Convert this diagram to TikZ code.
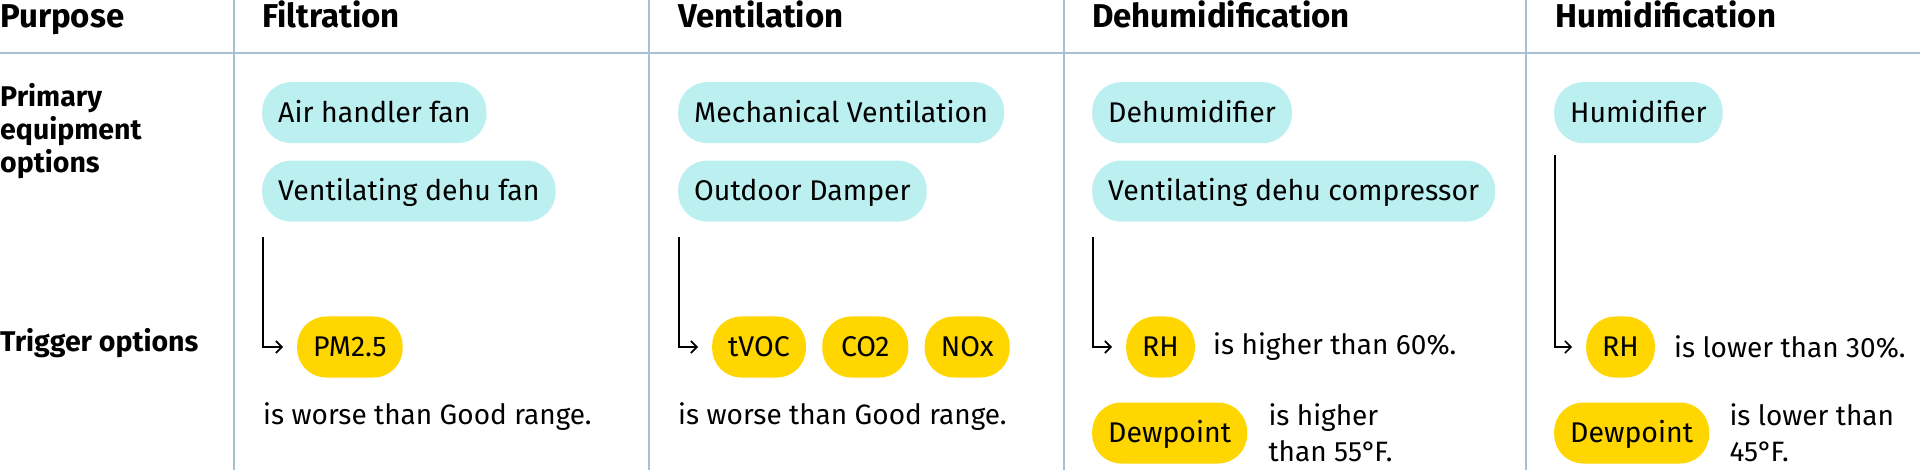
\documentclass[tikz,border=0pt]{standalone}
\usepackage{fontspec}
\setmainfont{Fira Sans}
\usepackage{tikz}
\usetikzlibrary{positioning,calc,arrows.meta}
\definecolor{gridline}{HTML}{A9C0D0}
\definecolor{eqfill}{HTML}{BCEFF0}
\definecolor{trigfill}{HTML}{FFD600}

\begin{document}
\begin{tikzpicture}[
    x=1pt, y=-1pt,
    node distance=16pt,
    head/.style={anchor=base west,inner sep=0pt,font=\fontsize{33}{38}\selectfont\bfseries},
    rowlabel/.style={anchor=west,inner sep=0pt,align=left,font=\fontsize{28.5}{33}\selectfont\bfseries},
    txt/.style={anchor=west,inner sep=0pt,align=left,font=\fontsize{28}{36}\selectfont},
    equip/.style={rectangle,rounded corners=29pt,fill=eqfill,minimum height=61pt,inner xsep=16pt,text height=19pt,text depth=0pt,font=\fontsize{28.5}{32}\selectfont},
    trig/.style={equip,fill=trigfill},
    conn/.style={draw=black,line width=1.6pt,-{Straight Barb[length=6pt,width=12pt]}}
    ]
    \useasboundingbox (0,0) rectangle (1920,470);
    % table rules
    \draw[gridline,line width=2pt] (0,53) -- (1920,53);
    \foreach \x in {234,649,1064,1526}
        \draw[gridline,line width=2pt] (\x,0) -- (\x,470);

    \node[head] (purpose) at (0,28) {Purpose};
    \node[head] (filt) at (262,28) {Filtration};
    \node[head] (vent) at (678,28) {Ventilation};
    \node[head] (dehum) at (1092,28) {Dehumidification};
    \node[head] (hum) at (1555,28) {Humidification};

    \node[rowlabel] (primary) at (0,131) {Primary\\equipment\\options};
    \node[rowlabel] (trigger) at (0,343) {Trigger options};

    % equipment
    \node[equip,anchor=north west] (ahf) at (262,82) {Air handler fan};
    \node[equip,below=17pt of ahf.south west,anchor=north west] (vdf) {Ventilating dehu fan};
    \node[equip,anchor=north west] (mech) at (678,82) {Mechanical Ventilation};
    \node[equip,below=17pt of mech.south west,anchor=north west] (damper) {Outdoor Damper};
    \node[equip,anchor=north west] (dehu) at (1092,82) {Dehumidifier};
    \node[equip,below=17pt of dehu.south west,anchor=north west] (comp) {Ventilating dehu compressor};
    \node[equip,anchor=north west] (humi) at (1554,82) {Humidifier};

    % triggers
    \node[trig,anchor=west] (pm) at (297,347) {PM2.5};
    \node[txt] (pmtxt) at (263,417) {is worse than Good range.};
    \node[trig,anchor=west] (tvoc) at (712,347) {tVOC};
    \node[trig,right=of tvoc,minimum width=86pt] (co2) {CO2};
    \node[trig,right=of co2,minimum width=85pt] (nox) {NOx};
    \node[txt] (venttxt) at (678,417) {is worse than Good range.};
    \node[trig,anchor=west] (rh1) at (1126,347) {RH};
    \node[txt,right=18pt of rh1] (rh1txt) {is higher than 60\%.};
    \node[trig,anchor=west] (dew1) at (1092,433) {Dewpoint};
    \node[txt,right=21pt of dew1] (dew1txt) {is higher\\than 55°\kern-2pt F.};
    \node[trig,anchor=west] (rh2) at (1586,347) {RH};
    \node[txt,right=19pt of rh2] (rh2txt) {is lower than 30\%.};
    \node[trig,anchor=west] (dew2) at (1554,433) {Dewpoint};
    \node[txt,right=20pt of dew2] (dew2txt) {is lower than\\45°\kern-2pt F.};

    % connectors
    \coordinate (fa) at ($(vdf.south west)+(1,15)$);
    \coordinate (fb) at ($(pm.west)+(-14,0)$);
    \coordinate (va) at ($(damper.south west)+(1,15)$);
    \coordinate (vb) at ($(tvoc.west)+(-14,0)$);
    \coordinate (da) at ($(comp.south west)+(1,15)$);
    \coordinate (db) at ($(rh1.west)+(-14,0)$);
    \coordinate (ha) at ($(humi.south west)+(1,12)$);
    \coordinate (hb) at ($(rh2.west)+(-14,0)$);
    \draw[conn] (fa) |- (fb);
    \draw[conn] (va) |- (vb);
    \draw[conn] (da) |- (db);
    \draw[conn] (ha) |- (hb);
\end{tikzpicture}
\end{document}
